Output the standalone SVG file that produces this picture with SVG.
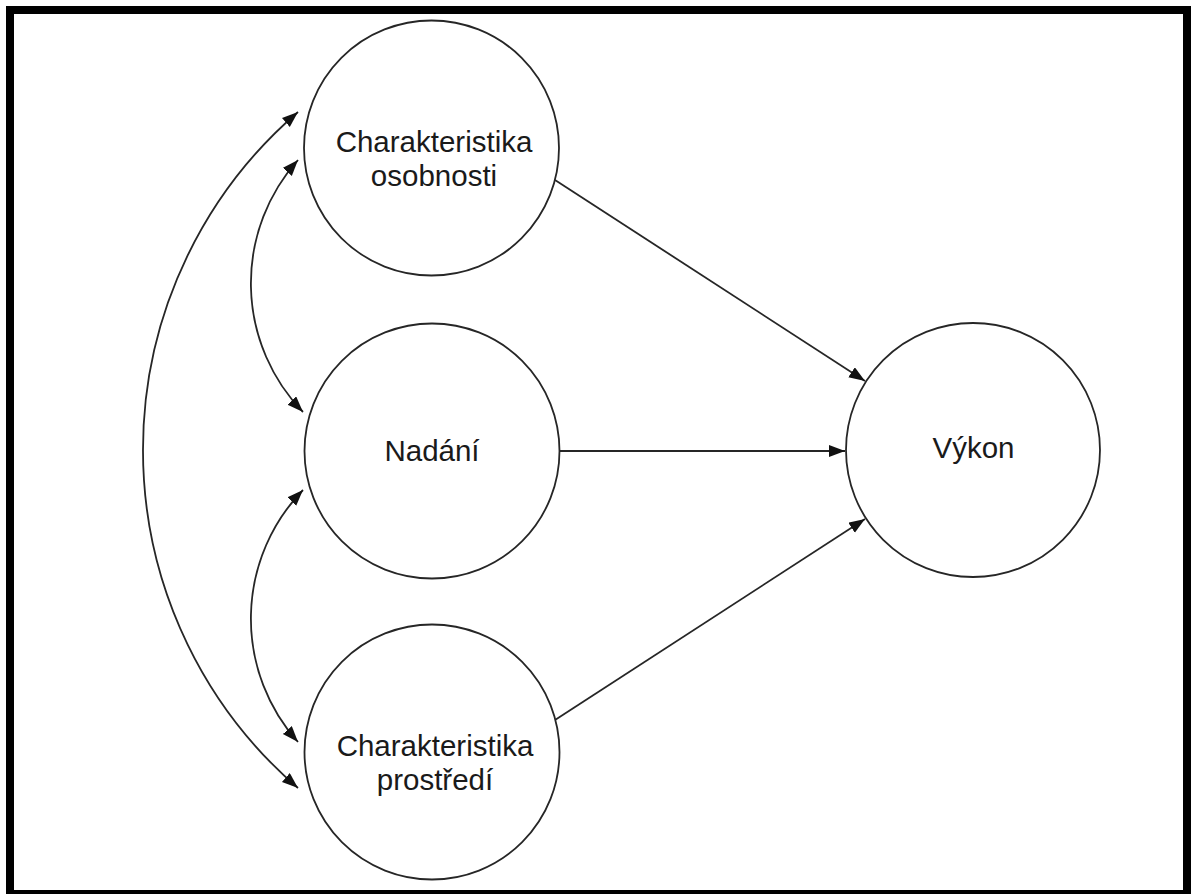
<svg xmlns="http://www.w3.org/2000/svg" width="1192" height="894" viewBox="0 0 1192 894">
<style>
.node circle{fill:#fff;stroke:#262626;stroke-width:1.8}
.node text{font-family:"Liberation Sans",Arial,sans-serif;font-size:29.5px;fill:#1a1a1a;text-anchor:middle}
.conn path{fill:none;stroke:#262626;stroke-width:1.8}
.one{marker-end:url(#arr)}
.two{marker-start:url(#arr);marker-end:url(#arr)}
</style>
<defs>
<marker id="arr" markerUnits="userSpaceOnUse" markerWidth="18" markerHeight="14" refX="16" refY="6" orient="auto-start-reverse">
<path d="M0,0 L16,6 L0,12 z" fill="#111"/>
</marker>
</defs>
<rect x="0" y="0" width="1192" height="894" fill="#fff"/>
<rect x="10" y="10" width="1177" height="884" fill="#fff" stroke="#000" stroke-width="8"/>
<g id="connectors" class="conn">
<path class="two" d="M298,112 A446,446 0 0 0 298,788"/>
<path class="two" d="M298,160 A185,185 0 0 0 303,412"/>
<path class="two" d="M303,490 A185,185 0 0 0 298,742"/>
<path class="one" d="M555,180 L865,381"/>
<path class="one" d="M560,451 L845,451"/>
<path class="one" d="M555,720 L865,519"/>
</g>
<g id="node-osobnost" class="node">
<circle cx="431.5" cy="148" r="127.5"/>
<text x="434" y="152">Charakteristika</text>
<text x="434" y="186">osobnosti</text>
</g>
<g id="node-nadani" class="node">
<circle cx="432" cy="451" r="127.5"/>
<text x="432" y="461">Nadání</text>
</g>
<g id="node-prostredi" class="node">
<circle cx="432" cy="752" r="127.5"/>
<text x="435" y="756">Charakteristika</text>
<text x="435" y="790">prostředí</text>
</g>
<g id="node-vykon" class="node">
<circle cx="973" cy="450" r="127"/>
<text x="973.5" y="458">Výkon</text>
</g>
</svg>
